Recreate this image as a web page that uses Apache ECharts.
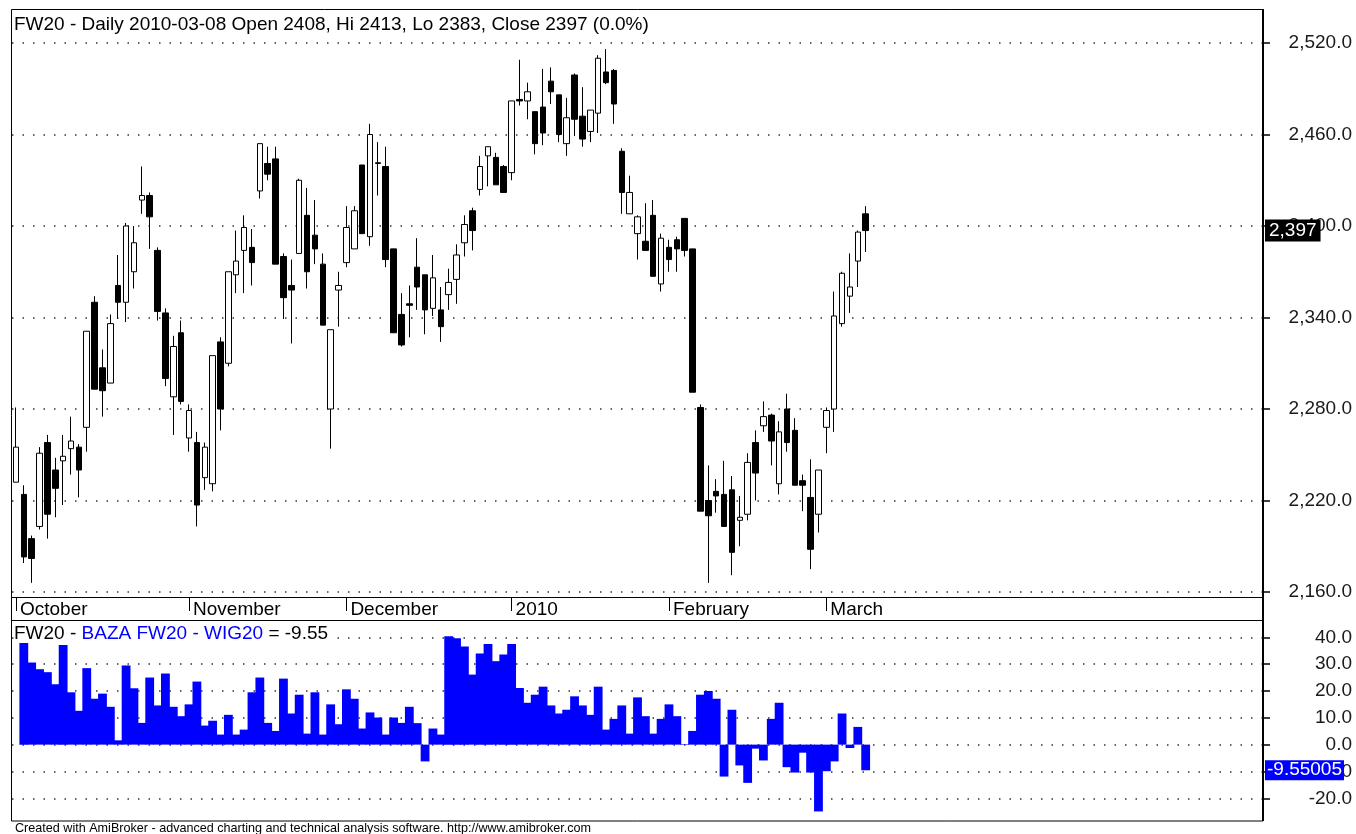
<!DOCTYPE html>
<html>
<head>
<meta charset="utf-8">
<title>FW20 - Daily</title>
<script src="https://cdn.jsdelivr.net/npm/echarts@6/dist/echarts.min.js"></script>
<style>
  html, body { margin: 0; padding: 0; background: #fff; }
  #chart { width: 1356px; height: 834px; }
</style>
</head>
<body>
<div id="chart"></div>
<script>
// trading days, Oct 2009 - Mar 2010 (WSE calendar)
const dates = [
  '2009-10-01','2009-10-02','2009-10-05','2009-10-06','2009-10-07','2009-10-08','2009-10-09','2009-10-12','2009-10-13','2009-10-14','2009-10-15',
  '2009-10-16','2009-10-19','2009-10-20','2009-10-21','2009-10-22','2009-10-23','2009-10-26','2009-10-27','2009-10-28','2009-10-29','2009-10-30',
  '2009-11-02','2009-11-03','2009-11-04','2009-11-05','2009-11-06','2009-11-09','2009-11-10','2009-11-12','2009-11-13','2009-11-16',
  '2009-11-17','2009-11-18','2009-11-19','2009-11-20','2009-11-23','2009-11-24','2009-11-25','2009-11-26','2009-11-27','2009-11-30',
  '2009-12-01','2009-12-02','2009-12-03','2009-12-04','2009-12-07','2009-12-08','2009-12-09','2009-12-10','2009-12-11','2009-12-14','2009-12-15',
  '2009-12-16','2009-12-17','2009-12-18','2009-12-21','2009-12-22','2009-12-23','2009-12-28','2009-12-29','2009-12-30','2009-12-31',
  '2010-01-04','2010-01-05','2010-01-06','2010-01-07','2010-01-08','2010-01-11','2010-01-12','2010-01-13','2010-01-14','2010-01-15',
  '2010-01-18','2010-01-19','2010-01-20','2010-01-21','2010-01-22','2010-01-25','2010-01-26','2010-01-27','2010-01-28','2010-01-29',
  '2010-02-01','2010-02-02','2010-02-03','2010-02-04','2010-02-05','2010-02-08','2010-02-09','2010-02-10','2010-02-11','2010-02-12',
  '2010-02-15','2010-02-16','2010-02-17','2010-02-18','2010-02-19','2010-02-22','2010-02-23','2010-02-24','2010-02-25','2010-02-26',
  '2010-03-01','2010-03-02','2010-03-03','2010-03-04','2010-03-05','2010-03-08'
];

const openVals = [
  2232, 2224, 2195, 2203, 2258, 2240, 2246, 2254, 2255, 2268, 2350, 2307, 2297, 2361, 2350, 2370, 2417, 2420, 2384, 2343,
  2288, 2330, 2261, 2258, 2235, 2231, 2324, 2310, 2368, 2384, 2386, 2423, 2441, 2444, 2380, 2361, 2382, 2407, 2394, 2375,
  2280, 2358, 2376, 2385, 2440, 2393, 2441, 2439, 2385, 2342, 2349, 2373, 2368, 2346, 2345, 2355, 2365, 2389, 2410, 2424,
  2446, 2445, 2439, 2435, 2483, 2482, 2475, 2478, 2495, 2486, 2454, 2499, 2472, 2462, 2474, 2501, 2502, 2449, 2408, 2395,
  2390, 2407, 2362, 2386, 2391, 2405, 2385, 2281, 2220, 2226, 2224, 2227, 2207, 2211, 2258, 2269, 2276, 2231, 2280, 2266,
  2233, 2222, 2211, 2268, 2280, 2336, 2354, 2377, 2408
];
const closeVals = [
  2255, 2183, 2182, 2251, 2211, 2228, 2249, 2259, 2240, 2331, 2293, 2292, 2336, 2350, 2400, 2389, 2420, 2406, 2344, 2300,
  2321, 2285, 2279, 2217, 2255, 2315, 2280, 2370, 2377, 2399, 2376, 2454, 2434, 2375, 2353, 2358, 2430, 2370, 2385, 2335,
  2332, 2361, 2399, 2410, 2395, 2460, 2441.5, 2378, 2330, 2322, 2348, 2360, 2345, 2366, 2334, 2363, 2381, 2401, 2397, 2439,
  2452, 2427, 2422, 2482, 2482, 2488, 2454, 2461, 2488, 2460, 2471, 2470, 2457, 2476, 2510, 2494, 2480, 2422, 2422, 2406,
  2384, 2367, 2392, 2378, 2385, 2384, 2291, 2213, 2210, 2223, 2203, 2186, 2209, 2245, 2238, 2275, 2259, 2265, 2258, 2230,
  2230, 2188, 2240, 2279, 2341, 2369, 2360, 2396, 2397
];
const lowVals = [
  2232, 2179, 2166, 2201, 2195, 2209, 2217, 2237, 2222, 2252, 2293, 2275, 2297, 2339, 2337, 2359, 2408, 2385, 2338, 2295,
  2263, 2283, 2252, 2203, 2227, 2226, 2266, 2308, 2356, 2356, 2361, 2418, 2430, 2375, 2339, 2323, 2382, 2359, 2375, 2335,
  2254, 2334, 2373, 2385, 2395, 2387, 2420, 2373, 2330, 2321, 2327, 2345, 2329, 2341, 2324, 2345, 2349, 2380, 2384, 2420,
  2426, 2427, 2422, 2430, 2479, 2470, 2447, 2453, 2480, 2455, 2446, 2459, 2452, 2455, 2461, 2493, 2467, 2408, 2408, 2378,
  2384, 2367, 2357, 2370, 2370, 2380, 2291, 2213, 2166, 2212, 2203, 2171, 2190, 2207, 2220, 2265, 2243, 2224, 2252, 2230,
  2213, 2175, 2199, 2251, 2265, 2334, 2343, 2360, 2383
];
const highVals = [
  2281, 2230, 2197, 2255, 2263, 2248, 2263, 2275, 2257, 2331, 2354, 2319, 2342, 2381, 2402, 2400, 2439, 2422, 2386, 2346,
  2328, 2338, 2283, 2265, 2258, 2315, 2327, 2370, 2397, 2407, 2398, 2454, 2452, 2452, 2382, 2378, 2431, 2425, 2417, 2382,
  2332, 2370, 2413, 2413, 2440, 2467, 2455, 2452, 2385, 2356, 2361, 2392, 2368, 2381, 2360, 2372, 2388, 2407, 2412, 2446,
  2452, 2448, 2440, 2482, 2509, 2494, 2475, 2503, 2504, 2486, 2484, 2500, 2491, 2476, 2512, 2516, 2503, 2451, 2433, 2407,
  2415, 2417, 2395, 2391, 2393, 2405, 2385, 2283, 2243, 2234, 2246, 2236, 2223, 2251, 2266, 2285, 2277, 2272, 2290, 2274,
  2237, 2247, 2240, 2281, 2357, 2370, 2382, 2397, 2413
];
// BAZA FW20 - WIG20
const spreadVals = [
  null, 38.1, 30.6, 28.1, 27, 22.5, 37.1, 19.5, 12.6, 28.5, 17.1, 19, 14.1, 1.6, 29.5, 21, 8.1, 25, 14.6, 26.5,
  14.1, 10.6, 15, 23.5, 7.1, 8.9, 3.75, 11.1, 3.75, 5.6, 19.5, 25, 8.1, 5.1, 24.6, 11.6, 18.6, 4.1, 19.5, 3.75,
  15, 7.6, 20.6, 17.1, 6, 12, 10.1, 3.75, 10.1, 8.1, 14.1, 8, -6.25, 6, 3.75, 40.4, 39.6, 36.6, 26.1, 34,
  37.5, 31.1, 33.6, 37.5, 21.1, 15.6, 18.6, 21.6, 14.6, 11.6, 13, 18, 14.6, 11.1, 21.6, 5.6, 9.6, 14.6, 4.1, 17.6,
  10.6, 4.1, 9.6, 15, 10.6, 0.2, 5.1, 18.6, 20, 17.1, -11.9, 13, -7.75, -14.25, -1.5, -5.9, 9.6, 15.6, -8.4, -10.4,
  -3, -10.4, -24.9, -9.9, -6.25, 11.6, -1.25, 6.6, -9.55005
];
const monthNames = ['January', 'February', 'March', 'April', 'May', 'June', 'July',
  'August', 'September', 'October', 'November', 'December'];

const FONT = 'Liberation Sans';
const TOTAL_SLOTS = 159; // empty space to the right like the AmiBroker view

const categories = dates.slice();
while (categories.length < TOTAL_SLOTS) categories.push('');

const candleData = dates.map((d, i) => [openVals[i], closeVals[i], lowVals[i], highVals[i]]);

function isMonthStart(idx) {
  if (idx >= dates.length) return false;
  if (idx === 0) return true;
  return dates[idx].slice(0, 7) !== dates[idx - 1].slice(0, 7);
}
function monthLabel(value) {
  if (!value) return '';
  const m = parseInt(value.slice(5, 7), 10);
  return m === 1 ? value.slice(0, 4) : monthNames[m - 1];
}

const n = dates.length;
const lastClose = closeVals[n - 1];
const prevClose = closeVals[n - 2];
const pct = ((lastClose - prevClose) / prevClose * 100).toFixed(1);
const mainTitle = 'FW20 - Daily ' + dates[n - 1] + ' Open ' + openVals[n - 1] + ', Hi ' + highVals[n - 1] +
  ', Lo ' + lowVals[n - 1] + ', Close ' + lastClose + ' (' + pct + '%)';
const lastSpread = spreadVals[n - 1];

const dotted = { color: '#333', width: 1.5, type: [1.5, 9] };

const chart = echarts.init(document.getElementById('chart'));

const option = {
  animation: false,
  backgroundColor: '#fff',
  textStyle: { fontFamily: FONT },
  title: [
    {
      text: mainTitle, left: 14, top: 15, padding: 0,
      textStyle: { fontFamily: FONT, fontSize: 19, fontWeight: 'normal', color: '#000' }
    },
    {
      text: '{k|FW20 - }{b|BAZA FW20 - WIG20}{k| = ' + lastSpread.toFixed(2) + '}',
      left: 14, top: 624, padding: [0, 3, 0, 0], z: 10, backgroundColor: '#fff',
      textStyle: {
        fontFamily: FONT, fontSize: 19, fontWeight: 'normal',
        rich: {
          k: { fontFamily: FONT, fontSize: 19, color: '#000' },
          b: { fontFamily: FONT, fontSize: 19, color: '#0000ff' }
        }
      }
    },
    {
      text: 'Created with AmiBroker - advanced charting and technical analysis software. http://www.amibroker.com',
      left: 15, top: 822, padding: 0,
      textStyle: { fontFamily: FONT, fontSize: 12.6, fontWeight: 'normal', color: '#000' }
    }
  ],
  graphic: [
    { type: 'rect', silent: true, z: 100,
      shape: { x: 11.5, y: 9.5, width: 1251.5, height: 811.5 },
      style: { fill: 'none', stroke: '#000', lineWidth: 1 } },
    { type: 'line', silent: true, z: 100,
      shape: { x1: 11, y1: 597.5, x2: 1263, y2: 597.5 }, style: { stroke: '#000', lineWidth: 1 } },
    { type: 'line', silent: true, z: 100,
      shape: { x1: 11, y1: 620.5, x2: 1263, y2: 620.5 }, style: { stroke: '#000', lineWidth: 1 } },
    { type: 'line', silent: true, z: 100,
      shape: { x1: 1263, y1: 9, x2: 1263, y2: 821 }, style: { stroke: '#000', lineWidth: 2 } }
  ],
  grid: [
    { left: 12, right: 93, top: 43, height: 549 },
    { left: 12, right: 93, top: 621, height: 200 }
  ],
  xAxis: [
    {
      type: 'category', gridIndex: 0, data: categories, boundaryGap: true,
      offset: 5,
      axisLine: { show: false },
      axisTick: { show: true, alignWithLabel: true, length: 14, interval: (i) => isMonthStart(i),
        lineStyle: { color: '#000', width: 1 } },
      axisLabel: {
        interval: (i) => isMonthStart(i),
        formatter: monthLabel, align: 'left', padding: [0, 0, 0, 4], margin: 3,
        fontFamily: FONT, fontSize: 19, color: '#000'
      },
      splitLine: { show: false }
    },
    {
      type: 'category', gridIndex: 1, data: categories, boundaryGap: true, show: false
    }
  ],
  yAxis: [
    {
      type: 'value', gridIndex: 0, position: 'right', min: 2160, max: 2520, interval: 60,
      axisLine: { show: false },
      axisTick: { show: true, length: 7, lineStyle: { color: '#000', width: 1.5 } },
      axisLabel: {
        align: 'right', margin: 89, fontFamily: FONT, fontSize: 19, color: '#1a1a1a',
        formatter: (v) => v.toLocaleString('en-US', { minimumFractionDigits: 1, maximumFractionDigits: 1 })
      },
      splitLine: { show: true, lineStyle: dotted }
    },
    {
      type: 'value', gridIndex: 1, position: 'right', min: -28.46, max: 46.07, splitNumber: 7,
      axisLine: { show: false },
      axisTick: { show: true, length: 7, lineStyle: { color: '#000', width: 1.5 } },
      axisLabel: {
        align: 'right', margin: 89, fontFamily: FONT, fontSize: 19, color: '#1a1a1a',
        showMinLabel: false, showMaxLabel: false,
        formatter: (v) => v.toFixed(1)
      },
      splitLine: { show: true, showMinLine: false, showMaxLine: false, lineStyle: dotted }
    }
  ],
  series: [
    {
      name: 'FW20', type: 'candlestick', xAxisIndex: 0, yAxisIndex: 0,
      data: candleData, barWidth: 6,
      itemStyle: { color: '#fff', color0: '#000', borderColor: '#000', borderColor0: '#000', borderWidth: 1 },
      markLine: {
        silent: true, symbol: 'none',
        lineStyle: { color: 'transparent', width: 0 },
        label: {
          show: true, position: 'end', distance: 2,
          formatter: lastClose.toLocaleString('en-US'),
          color: '#fff', backgroundColor: '#000', padding: [2, 4, 1, 4],
          fontFamily: FONT, fontSize: 19
        },
        data: [{ yAxis: lastClose }]
      }
    },
    {
      name: 'BAZA FW20 - WIG20', type: 'bar', xAxisIndex: 1, yAxisIndex: 1,
      data: spreadVals, barWidth: '112%', barGap: '0%',
      itemStyle: { color: '#0000ff' },
      markLine: {
        silent: true, symbol: 'none',
        lineStyle: { color: 'transparent', width: 0 },
        label: {
          show: true, position: 'end', distance: 2,
          formatter: String(lastSpread),
          color: '#fff', backgroundColor: '#0000ff', padding: [1, 2, 0, 2],
          fontFamily: FONT, fontSize: 19
        },
        data: [{ yAxis: lastSpread }]
      }
    }
  ]
};

chart.setOption(option);
</script>
</body>
</html>
